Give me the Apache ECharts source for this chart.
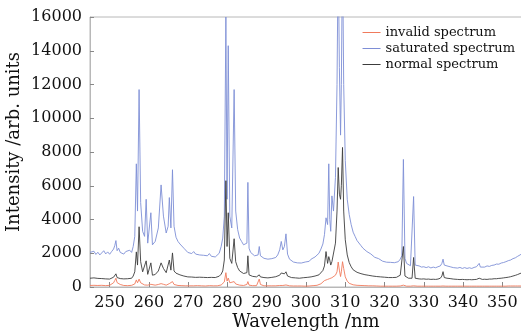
<!DOCTYPE html>
<html>
<head>
<meta charset="utf-8">
<script src="https://cdn.jsdelivr.net/npm/echarts@6/dist/echarts.min.js"></script>
<style>html,body{margin:0;padding:0;background:#fff}#c{width:521px;height:333px}</style>
</head>
<body>
<div id="c"></div>
<script>
const seriesNames = ['invalid spectrum', 'saturated spectrum', 'normal spectrum'];
const xTicks = [250, 260, 270, 280, 290, 300, 310, 320, 330, 340, 350];
const wavelength = [
245.0,245.5,246.0,246.5,247.0,247.5,248.0,248.5,249.0,249.5,
250.0,250.5,251.0,251.3,251.6,251.9,252.3,252.7,253.1,253.6,
254.1,254.6,255.1,255.6,256.0,256.4,
256.8,257.1,257.5,257.9,258.4,258.9,259.3,259.7,260.1,260.5,
260.9,261.6,262.4,263.1,263.7,264.4,264.9,265.2,265.6,266.0,
266.4,
266.9,267.4,267.9,268.4,268.9,269.4,269.9,270.4,270.9,271.4,
271.9,272.4,272.9,273.4,273.9,274.4,274.9,275.4,275.9,276.4,
276.9,277.4,277.9,
278.4,278.8,279.2,279.6,279.9,280.2,280.6,281.1,281.7,282.1,
282.6,283.1,283.6,284.1,284.6,284.95,285.2,285.5,285.9,
286.4,286.9,287.4,287.8,288.1,288.4,288.8,289.3,289.8,290.3,
290.8,291.3,291.8,292.3,292.8,293.3,293.7,294.1,294.5,294.9,
295.3,295.8,296.3,296.8,297.3,297.8,298.3,298.8,299.3,299.8,
300.3,300.8,301.3,301.8,302.3,302.8,303.3,303.8,304.3,304.7,
305.1,305.5,305.8,306.05,306.3,306.6,307.0,307.5,307.9,308.2,
308.5,308.8,309.0,309.3,309.6,310.0,310.5,311.0,
311.5,312.0,312.5,313.0,313.5,314.0,314.5,315.0,315.5,316.0,
316.5,317.0,317.5,318.0,318.5,319.0,319.5,320.0,320.5,321.0,
321.5,322.0,322.5,323.0,323.5,324.0,324.4,
324.8,325.2,325.6,326.1,326.6,327.0,327.4,327.8,328.3,328.8,
329.4,330.0,330.6,331.2,331.8,332.4,333.0,333.6,334.2,334.6,
334.9,335.2,335.6,335.9,336.3,336.7,337.1,337.5,338.0,338.6,
339.2,339.8,340.4,341.0,341.6,342.2,342.8,343.4,343.8,344.1,
344.4,344.9,345.5,346.1,346.7,347.3,347.9,348.5,349.1,349.7,
350.3,350.9,351.5,352.1,352.7,353.3,353.9,354.5,355.0
];
const saturated = [
2050,1980,2120,1930,2060,1900,2010,2150,1960,2080,
1940,2100,2250,2450,2750,2150,2300,2050,2150,1950,
2100,2000,2180,2050,2400,3000,
7300,4500,11700,5000,3300,3000,5200,2600,2500,4400,
2500,2700,3500,6050,4200,3200,3600,5300,3500,6950,
3600,
2950,2700,2550,2450,2300,2200,2050,2150,1980,2100,
1950,2050,1900,2000,1880,1950,1850,1980,1820,1900,
1780,1850,2000,
2400,2900,4200,16000,5200,14300,4200,3500,11700,4500,
3400,2900,2700,2500,2450,2600,6200,2300,2050,
1950,1850,1800,1900,2400,1850,1750,1700,1620,1650,
1580,1680,1620,1750,1900,2200,2700,2200,2400,3150,
1950,1650,1550,1480,1520,1430,1460,1420,1500,1480,
1560,1520,1650,1620,1780,1850,2000,2250,2550,3100,
4100,3700,7300,4000,3300,5400,4500,6500,12000,20000,
13000,9000,12000,20000,12000,7500,5200,4300,
3700,3250,3000,2750,2650,2450,2300,2200,2100,2000,
1960,1850,1760,1700,1680,1600,1530,1500,1470,1430,
1460,1420,1440,1400,1500,1650,1850,
7560,1700,1400,1300,1260,1300,5360,1300,1220,1250,
1180,1200,1150,1200,1130,1180,1140,1200,1250,1400,
1650,1300,1400,1250,1350,1200,1300,1150,1180,1120,
1160,1100,1150,1100,1140,1100,1160,1200,1250,1400,
1180,1220,1180,1250,1220,1280,1300,1360,1350,1420,
1450,1500,1560,1600,1680,1730,1820,1900,1980
];
const normal = [
520,470,540,490,510,460,500,530,480,510,
470,520,580,650,780,560,600,500,540,480,
520,490,540,520,650,900,
2080,1300,3570,1500,900,850,1550,750,720,1430,
700,740,950,1430,1100,850,950,1600,1000,2020,
950,
820,760,720,680,650,630,600,620,590,610,
570,600,580,610,570,590,560,600,570,590,
560,580,640,
760,950,1600,6300,2400,4400,1700,1400,2860,1500,
1150,950,870,800,780,850,1850,720,660,
630,610,600,640,720,600,570,560,550,540,
560,570,580,610,650,700,830,720,780,900,
650,590,560,550,540,530,520,540,550,560,
570,580,600,620,650,680,720,820,980,1250,
2100,1400,1800,1600,1300,1500,1400,2600,4500,7080,
5500,5200,6000,8270,4500,2800,1900,1450,
1200,1020,950,870,830,790,760,730,710,690,
670,650,640,620,610,600,590,580,570,560,
570,560,560,570,620,700,800,
2400,650,560,520,500,520,1750,520,490,480,
470,480,460,470,450,460,450,470,520,650,
910,560,650,520,600,500,580,470,460,450,
440,450,440,430,440,430,440,450,480,520,
460,450,460,450,470,470,490,490,510,520,
540,560,580,610,650,690,740,800,840
];
const invalid = [
90,70,100,80,90,70,100,110,80,90,
100,150,250,380,520,260,360,150,120,90,
100,80,110,100,130,180,
420,250,470,250,160,120,200,110,100,160,
100,110,150,200,160,110,130,200,150,320,
150,
110,90,100,80,90,70,80,70,80,70,
60,80,70,70,80,60,70,80,60,70,
80,70,90,
120,180,300,850,350,530,250,200,320,180,
140,110,100,90,100,150,320,110,90,
80,70,80,160,470,150,80,70,60,70,
60,70,60,70,80,90,110,90,100,120,
80,70,60,60,50,60,50,60,60,50,
70,60,70,80,90,100,140,190,280,380,
480,450,520,500,480,550,600,700,900,1480,
1000,620,900,1500,1100,600,350,220,
160,130,110,100,90,90,80,80,70,70,
60,70,60,60,60,50,60,50,60,50,
60,50,60,50,60,60,70,
110,60,50,50,50,50,70,50,50,50,
50,50,50,50,50,50,50,50,50,50,
60,50,50,50,50,50,50,50,50,50,
50,50,50,50,50,50,50,50,50,50,
50,50,50,50,50,50,50,50,50,50,
50,50,60,60,60,60,60,60,60
];
const colors = ['#f07a5c', '#7e8ed6', '#3c3c3c'];
const values = [invalid, saturated, normal];

const chart = echarts.init(document.getElementById('c'), null, {renderer: 'canvas'});
const serif = 'DejaVu Serif';
const axisGray = '#b8b8b8';
chart.setOption({
  animation: false,
  backgroundColor: '#fff',
  grid: {left: 90, right: -1, top: 17, bottom: 46, show: true, borderColor: axisGray, borderWidth: 1,
         containLabel: false, outerBoundsMode: 'none'},
  legend: {
    orient: 'vertical', right: 1, top: 21, itemWidth: 18, itemHeight: 1, itemGap: 3, icon: 'rect',
    textStyle: {fontFamily: serif, fontSize: 13, color: '#111'},
    data: seriesNames.map((n, i) => ({name: n, itemStyle: {color: colors[i]}}))
  },
  xAxis: {
    type: 'value', min: 245, max: 355,
    name: 'Wavelength /nm', nameLocation: 'middle', nameGap: 26, nameMoveOverlap: false,
    nameTextStyle: {fontFamily: serif, fontSize: 18, color: '#111'},
    axisLine: {show: true, lineStyle: {color: axisGray}},
    axisTick: {show: true, inside: true, length: 5, lineStyle: {color: '#888'}, customValues: xTicks},
    axisLabel: {fontFamily: serif, fontSize: 16, color: '#111', margin: 8, customValues: xTicks},
    splitLine: {show: false}
  },
  yAxis: {
    type: 'value', min: 0, max: 16000, interval: 2000,
    name: 'Intensity /arb. units', nameLocation: 'middle', nameGap: 67, nameMoveOverlap: false,
    nameTextStyle: {fontFamily: serif, fontSize: 18, color: '#111', padding: [0, 0, 0, 20]},
    axisLine: {show: true, lineStyle: {color: axisGray}},
    axisTick: {show: true, inside: true, length: 4, lineStyle: {color: '#888'}},
    axisLabel: {fontFamily: serif, fontSize: 16, color: '#111', margin: 8, formatter: v => String(v)},
    splitLine: {show: false}
  },
  series: seriesNames.map((n, i) => ({
    name: n, type: 'line', showSymbol: false, clip: true,
    lineStyle: {width: 0.9, color: colors[i]},
    itemStyle: {color: colors[i]},
    data: wavelength.map((w, k) => [w, values[i][k]])
  }))
});
</script>
</body>
</html>
